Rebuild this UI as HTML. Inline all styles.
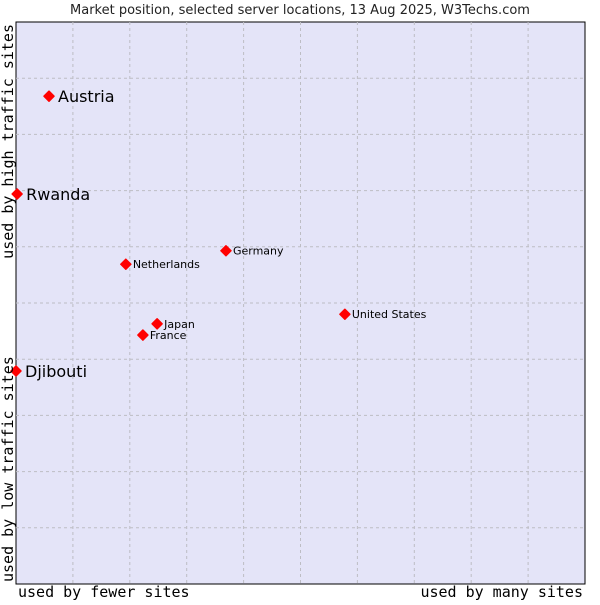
<!DOCTYPE html>
<html><head><meta charset="utf-8"><style>
body{margin:0;background:#fff;width:600px;height:600px;overflow:hidden}
svg text{font-family:"DejaVu Sans","Liberation Sans",sans-serif}
</style></head><body>
<svg width="600" height="600">
<text x="300" y="14" text-anchor="middle" font-size="13" fill="#222">Market position, selected server locations, 13 Aug 2025, W3Techs.com</text>
<rect x="16" y="22" width="569" height="562" fill="#e4e4f8" stroke="#000" stroke-width="1"/>
<g id="grid"></g>
<g id="marks"></g>
<text x="18" y="597" font-size="15" style="font-family:'DejaVu Sans Mono',monospace">used by fewer sites</text>
<text x="583" y="597" text-anchor="end" font-size="15" style="font-family:'DejaVu Sans Mono',monospace">used by many sites</text>
<text transform="translate(13,582) rotate(-90)" font-size="15" style="font-family:'DejaVu Sans Mono',monospace">used by low traffic sites</text>
<text transform="translate(13,24) rotate(-90)" text-anchor="end" font-size="15" style="font-family:'DejaVu Sans Mono',monospace">used by high traffic sites</text>
</svg>
<script>
const names=["Austria","Rwanda","Djibouti","Netherlands","Germany","United States","Japan","France"];
const xVals=[5.8,0.2,0,19.3,36.9,57.8,24.8,22.3];
const yVals=[86.8,69.4,37.9,56.9,59.3,48.0,46.3,44.3];
const big=[true,true,true,false,false,false,false,false];
const NS="http://www.w3.org/2000/svg";
const X=v=>16+v*5.69, Y=v=>584-v*5.62;
const grid=document.getElementById('grid');
for(let i=1;i<10;i++){
 const v=document.createElementNS(NS,'line');
 v.setAttribute('x1',X(i*10));v.setAttribute('x2',X(i*10));v.setAttribute('y1',22);v.setAttribute('y2',584);
 v.setAttribute('stroke','#bdbdc4');v.setAttribute('stroke-dasharray','3,3');
 
 
 grid.appendChild(v);
 const h=document.createElementNS(NS,'line');
 h.setAttribute('y1',Y(i*10));h.setAttribute('y2',Y(i*10));h.setAttribute('x1',16);h.setAttribute('x2',585);
 h.setAttribute('stroke','#bdbdc4');h.setAttribute('stroke-dasharray','3,3');
 
 
 grid.appendChild(h);
}
const marks=document.getElementById('marks');
names.forEach((n,i)=>{
 const x=X(xVals[i]),y=Y(yVals[i]);
 const d=document.createElementNS(NS,'path');
 d.setAttribute('d',`M${x-5},${y}L${x},${y-5}L${x+5},${y}L${x},${y+5}Z`);
 d.setAttribute('fill','#f00');
 d.setAttribute('stroke','#f00');
 d.setAttribute('stroke-linejoin','round');
 d.setAttribute('stroke-width','1.5');
 
 
 marks.appendChild(d);
 const t=document.createElementNS(NS,'text');
 t.setAttribute('x',x+(big[i]?9:7));t.setAttribute('y',y+(big[i]?6:4));
 t.setAttribute('font-size',big[i]?16:11);t.setAttribute('fill','#000');
 t.textContent=n;
 
 
 marks.appendChild(t);
});
</script>
</body></html>
